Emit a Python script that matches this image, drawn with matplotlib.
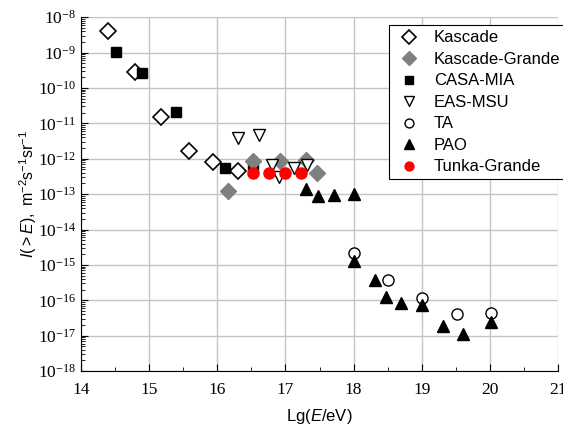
import matplotlib.pyplot as plt
from matplotlib.ticker import FixedLocator, LogLocator, NullFormatter, FuncFormatter
import numpy as np

plt.rcParams['font.family'] = 'Liberation Sans'
plt.rcParams['mathtext.fontset'] = 'custom'
plt.rcParams['mathtext.rm'] = 'Liberation Sans'
plt.rcParams['mathtext.it'] = 'Liberation Sans:italic'

# log10(E/eV), log10(I)
kascade_x = [14.40, 14.79, 15.18, 15.58, 15.94, 16.30]
kascade_y = [-8.40, -9.56, -10.83, -11.77, -12.08, -12.36]

grande_x = [16.15, 16.52, 16.92, 17.30, 17.46]
grande_y = [-12.92, -12.05, -12.05, -12.03, -12.40]

casa_x = [14.52, 14.90, 15.39, 16.11, 16.52]
casa_y = [-8.98, -9.58, -10.69, -12.26, -12.21]

eas_x = [16.31, 16.61, 16.80, 16.90, 17.12, 17.31]
eas_y = [-11.40, -11.32, -12.17, -12.52, -12.26, -12.17]

ta_x = [18.01, 18.51, 19.01, 19.52, 20.02]
ta_y = [-14.66, -15.42, -15.93, -16.38, -16.36]

pao_x = [17.30, 17.48, 17.71, 18.01, 18.01, 18.31, 18.48, 18.70, 19.00, 19.31, 19.61, 20.02]
pao_y = [-12.85, -13.06, -13.03, -12.99, -14.90, -15.42, -15.92, -16.09, -16.12, -16.73, -16.95, -16.62]

tunka_x = [16.53, 16.76, 17.00, 17.23]
tunka_y = [-12.40, -12.40, -12.40, -12.40]

fig = plt.figure(figsize=(5.63, 4.30), dpi=100)
ax = fig.add_axes([0.144, 0.137, 0.847, 0.823])

def p(y):
    return 10.0 ** np.array(y)

ax.plot(kascade_x, p(kascade_y), 'D', ms=8.5, mfc='white', mec='black', mew=1.2, ls='none', label='Kascade', zorder=3)
ax.plot(casa_x, p(casa_y), 's', ms=7, mfc='black', mec='black', ls='none', label='CASA-MIA', zorder=3)
ax.plot(grande_x, p(grande_y), 'D', ms=8.5, mfc='#808080', mec='#808080', ls='none', label='Kascade-Grande', zorder=3)
ax.plot(eas_x, p(eas_y), 'v', ms=9, mfc='white', mec='black', mew=1.0, ls='none', label='EAS-MSU', zorder=3)
ax.plot(ta_x, p(ta_y), 'o', ms=8, mfc='white', mec='black', mew=1.0, ls='none', label='TA', zorder=3)
ax.plot(pao_x, p(pao_y), '^', ms=8.5, mfc='black', mec='black', ls='none', label='PAO', zorder=4)
ax.plot(tunka_x, p(tunka_y), 'o', ms=8, mfc='red', mec='red', ls='none', label='Tunka-Grande', zorder=5)

ax.set_yscale('log')
ax.set_xlim(14, 21)
ax.set_ylim(1e-18, 1e-8)
ax.xaxis.set_major_locator(FixedLocator(range(14, 22)))
ax.xaxis.set_minor_locator(FixedLocator(np.arange(14.5, 21, 1.0)))
ax.yaxis.set_major_locator(LogLocator(base=10, numticks=20))
ax.yaxis.set_minor_locator(LogLocator(base=10, subs=np.arange(2, 10), numticks=20))
ax.yaxis.set_minor_formatter(NullFormatter())
ax.yaxis.set_major_formatter(FuncFormatter(lambda v, pos: r'$\mathregular{10^{%d}}$' % round(np.log10(v))))
ax.tick_params(which='both', direction='in', top=False, right=False, labelsize=12.5)
ax.tick_params(axis='x', which='major', pad=8)
ax.tick_params(which='major', length=5)
ax.tick_params(which='minor', length=3)
for lab in ax.get_xticklabels() + ax.get_yticklabels():
    lab.set_fontfamily('Liberation Serif')

ax.grid(True, which='major', color='#c4c4c4', lw=1.0)
ax.set_axisbelow(True)
for s in ['top', 'right']:
    ax.spines[s].set_visible(False)

ax.set_xlabel(r'Lg($\mathit{E}$/eV)', fontsize=12, labelpad=6)
ax.set_ylabel(r'$\mathit{I}\mathrm{(>}\mathit{E}\mathrm{),\ m^{-2}s^{-1}sr^{-1}}$', fontsize=11.5, labelpad=-1)

handles, labels = ax.get_legend_handles_labels()
order = ['Kascade', 'Kascade-Grande', 'CASA-MIA', 'EAS-MSU', 'TA', 'PAO', 'Tunka-Grande']
hl = [handles[labels.index(o)] for o in order]
leg = ax.legend(hl, order, loc='upper left', bbox_to_anchor=(0.645, 0.977), fontsize=12,
                frameon=True, fancybox=False, edgecolor='black', framealpha=1,
                handlelength=1.8, handletextpad=0.6, labelspacing=0.39, borderpad=0.3,
                borderaxespad=0, markerscale=0.8)
leg.get_frame().set_linewidth(0.8)

fig.savefig('out.png', dpi=100)
